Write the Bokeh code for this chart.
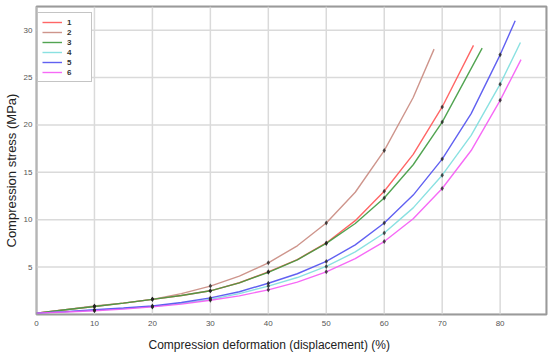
from bokeh.plotting import figure
from bokeh.models import Range1d, Legend, LegendItem, FixedTicker, Title, BoxAnnotation
from bokeh.embed import file_html
from bokeh.resources import INLINE

# ---- data ----
series_names = ["1", "2", "3", "4", "5", "6"]
series_colors = ["#ff5555", "#c98a80", "#3f9a3f", "#7ddede", "#5050f0", "#f55af5"]

x1 = [0, 5, 10, 15, 20, 25, 30, 35, 40, 45, 50, 55, 60, 65, 70, 75.4]
y1 = [0.15, 0.5, 0.85, 1.2, 1.6, 2.0, 2.5, 3.35, 4.5, 5.8, 7.55, 9.9, 13.0, 16.9, 21.9, 28.4]

x2 = [0, 5, 10, 15, 20, 25, 30, 35, 40, 45, 50, 55, 60, 65, 68.6]
y2 = [0.15, 0.5, 0.9, 1.2, 1.6, 2.2, 3.0, 4.05, 5.45, 7.25, 9.65, 12.9, 17.3, 22.9, 28.0]

x3 = [0, 5, 10, 15, 20, 25, 30, 35, 40, 45, 50, 55, 60, 65, 70, 76.9]
y3 = [0.15, 0.5, 0.85, 1.2, 1.6, 2.0, 2.5, 3.33, 4.45, 5.77, 7.5, 9.6, 12.3, 15.8, 20.3, 28.1]

x4 = [0, 5, 10, 15, 20, 25, 30, 35, 40, 45, 50, 55, 60, 65, 70, 75, 80, 83.5]
y4 = [0.15, 0.28, 0.45, 0.62, 0.85, 1.17, 1.6, 2.2, 3.0, 3.9, 5.07, 6.6, 8.6, 11.25, 14.7, 18.9, 24.3, 28.7]

x5 = [0, 5, 10, 15, 20, 25, 30, 35, 40, 45, 50, 55, 60, 65, 70, 75, 80, 82.6]
y5 = [0.15, 0.3, 0.5, 0.68, 0.9, 1.26, 1.75, 2.4, 3.3, 4.3, 5.6, 7.35, 9.65, 12.6, 16.4, 21.2, 27.4, 31.0]

x6 = [0, 5, 10, 15, 20, 25, 30, 35, 40, 45, 50, 55, 60, 65, 70, 75, 80, 83.6]
y6 = [0.15, 0.26, 0.4, 0.57, 0.8, 1.1, 1.5, 1.97, 2.6, 3.42, 4.5, 5.9, 7.7, 10.1, 13.3, 17.3, 22.6, 26.9]

x_ticks = [0, 10, 20, 30, 40, 50, 60, 70, 80]
y_ticks = [5, 10, 15, 20, 25, 30]

x_title = "Compression deformation (displacement) (%)"
y_title = "Compression stress (MPa)"

X_MIN, X_MAX = 0, 88
Y_MIN, Y_MAX = 0, 32.5

FONT = "'Liberation Sans', Arial, sans-serif"

p = figure(width=548, height=359, output_backend="svg", toolbar_location=None,
           x_range=Range1d(X_MIN, X_MAX), y_range=Range1d(Y_MIN, Y_MAX),
           min_border_left=36, min_border_right=2, min_border_top=6, min_border_bottom=45)

p.background_fill_color = "white"
p.border_fill_color = "white"
p.outline_line_color = "#9a9a9a"
p.outline_line_width = 2

for ax in (p.xaxis, p.yaxis):
    ax.axis_line_color = None
    ax.major_tick_line_color = None
    ax.minor_tick_line_color = None
    ax.major_tick_out = 0
    ax.major_tick_in = 0
    ax.minor_tick_out = 0
    ax.minor_tick_in = 0
    ax.major_label_text_font = FONT
    ax.major_label_text_font_size = "8px"
    ax.major_label_text_color = "#555555"
p.xaxis.ticker = FixedTicker(ticks=x_ticks)
p.yaxis.ticker = FixedTicker(ticks=y_ticks)
p.xaxis.major_label_standoff = 6
p.yaxis.major_label_standoff = 4

# grid drawn as glyphs from the tick lists
p.xgrid.grid_line_color = None
p.ygrid.grid_line_color = None
p.segment(x0=x_ticks, y0=[Y_MIN] * len(x_ticks), x1=x_ticks, y1=[Y_MAX] * len(x_ticks),
          line_color="#dadada", line_width=1.5)
p.segment(x0=[X_MIN] * len(y_ticks), y0=y_ticks, x1=[X_MAX] * len(y_ticks), y1=y_ticks,
          line_color="#dadada", line_width=1.5)

xs = [x1, x2, x3, x4, x5, x6]
ys = [y1, y2, y3, y4, y5, y6]

items = []
for name, color, xv, yv in zip(series_names, series_colors, xs, ys):
    r = p.line(xv, yv, line_color=color, line_width=1.4, line_alpha=0.9)
    items.append(LegendItem(label=name, renderers=[r]))

for xv, yv in zip(xs, ys):
    mx = [a for a in xv if a > 0 and a % 10 == 0]
    my = [b for a, b in zip(xv, yv) if a > 0 and a % 10 == 0]
    p.scatter(mx, my, marker="diamond", size=5, fill_color="#222222",
              line_color=None, fill_alpha=0.8)

p.add_layout(BoxAnnotation(fill_alpha=0, fill_color=None, line_color="#9a9a9a",
                           line_width=2))

legend = Legend(items=items, location=(1, 232))
legend.margin = 0
legend.padding = 4
legend.spacing = 0
legend.glyph_width = 20
legend.glyph_height = 10
legend.label_height = 10
legend.label_standoff = 5
legend.label_text_font = "Liberation Sans"
legend.label_text_font_size = "8px"
legend.label_text_font_style = "bold"
legend.label_text_color = "#333333"
legend.border_line_color = "#8a8a8a"
legend.border_line_width = 1.5
legend.background_fill_color = "white"
legend.background_fill_alpha = 1.0
p.add_layout(legend, "center")

p.add_layout(Title(text=x_title, align="left", offset=112, standoff=15,
                   text_font=FONT, text_font_size="12px",
                   text_font_style="normal", text_color="#222222"), "below")
p.add_layout(Title(text=y_title, align="left", offset=67, standoff=3,
                   text_font=FONT, text_font_size="13px",
                   text_font_style="normal", text_color="#222222"), "left")

open("out.html", "w").write(file_html(p, INLINE))
